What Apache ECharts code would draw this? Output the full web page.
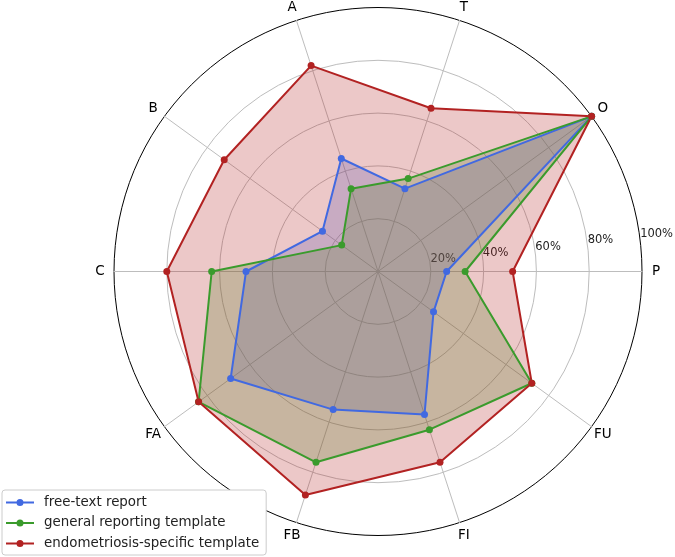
<!DOCTYPE html>
<html>
<head>
<meta charset="utf-8">
<script src="https://cdn.jsdelivr.net/npm/echarts@6/dist/echarts.min.js"></script>
<style>
  html, body { margin: 0; padding: 0; background: #fff; }
  #main { width: 675px; height: 557px; }
</style>
</head>
<body>
<div id="main"></div>
<script>
// categories, counter-clockwise from the right
var categories = ['P', 'O', 'T', 'A', 'B', 'C', 'FA', 'FB', 'FI', 'FU'];
var freeText = [26, 100, 33, 45, 26, 50, 69, 55, 57, 26];
var generalTemplate = [33, 100, 37, 33, 17, 63, 84, 76, 63, 72];
var endoTemplate = [51, 100, 65, 82, 72, 80, 84, 89, 76, 72];
var seriesNames = ['free-text report', 'general reporting template', 'endometriosis-specific template'];
var seriesColors = ['#4169e1', '#3a9b2c', '#b22222'];
var rTicks = [0, 20, 40, 60, 80, 100];

var FONT = 'DejaVu Sans';
var cx = 378, cy = 271.5, R = 264;
// legend icon: short line with a dot in the middle (28 x 7)
var lineDotIcon = 'path://M0,2.5L28,2.5L28,4.5L0,4.5Z M17.5,3.5A3.5,3.5,0,1,1,10.5,3.5A3.5,3.5,0,1,1,17.5,3.5Z';

// fills first (under every line), like matplotlib patches
function fillSeries(name, values, color) {
    return {
        name: name + ' fill',
        type: 'radar',
        symbol: 'none',
        silent: true,
        lineStyle: { width: 0, opacity: 0 },
        areaStyle: { color: color, opacity: 0.25 },
        data: [{ value: values }]
    };
}
function lineSeries(name, values, color) {
    return {
        name: name,
        type: 'radar',
        symbol: 'circle',
        symbolSize: 7,
        itemStyle: { color: color },
        lineStyle: { color: color, width: 2 },
        data: [{ value: values, name: name }]
    };
}

var option = {
    animation: false,
    backgroundColor: '#fff',
    textStyle: { fontFamily: FONT },
    radar: {
        center: [cx, cy],
        radius: R,
        startAngle: 0,
        shape: 'circle',
        splitNumber: rTicks.length - 1,
        indicator: categories.map(function (c) { return { name: c, min: 0, max: 100 }; }),
        axisName: { color: '#000', fontSize: 13.5, fontFamily: FONT, align: 'center', verticalAlign: 'middle' },
        nameGap: 14,
        axisLine: { lineStyle: { color: '#bdbdbd', width: 1 } },
        splitLine: { lineStyle: { color: ['#bdbdbd', '#bdbdbd', '#bdbdbd', '#bdbdbd', '#bdbdbd', '#000'], width: 1 } },
        splitArea: { show: false }
    },
    // overlay polar only to place the radial % labels
    polar: { center: [cx, cy], radius: R },
    angleAxis: { type: 'value', min: 0, max: 360, startAngle: 6.8, show: false },
    radiusAxis: {
        type: 'value', min: rTicks[0], max: rTicks[rTicks.length - 1], interval: 20,
        axisLine: { show: false }, axisTick: { show: false }, splitLine: { show: false },
        axisLabel: {
            formatter: '{value}%', margin: 0, align: 'left', verticalAlign: 'bottom',
            showMinLabel: false, fontSize: 11.5, color: '#222', fontFamily: FONT
        }
    },
    legend: {
        orient: 'vertical',
        left: 2,
        bottom: 2,
        padding: [5, 7, 4, 4],
        itemWidth: 28,
        itemHeight: 7,
        itemGap: 5.5,
        borderColor: '#cccccc',
        borderWidth: 1,
        borderRadius: 3,
        backgroundColor: '#fff',
        textStyle: { fontSize: 13.4, lineHeight: 15, color: '#222', fontFamily: FONT, padding: [0, 0, 0, 5] },
        data: seriesNames.map(function (n) { return { name: n, icon: lineDotIcon }; })
    },
    series: [
        fillSeries(seriesNames[0], freeText, seriesColors[0]),
        fillSeries(seriesNames[1], generalTemplate, seriesColors[1]),
        fillSeries(seriesNames[2], endoTemplate, seriesColors[2]),
        lineSeries(seriesNames[0], freeText, seriesColors[0]),
        lineSeries(seriesNames[1], generalTemplate, seriesColors[1]),
        lineSeries(seriesNames[2], endoTemplate, seriesColors[2])
    ]
};

var myChart = echarts.init(document.getElementById('main'), null, { renderer: 'canvas' });
myChart.setOption(option, true);
</script>
</body>
</html>
